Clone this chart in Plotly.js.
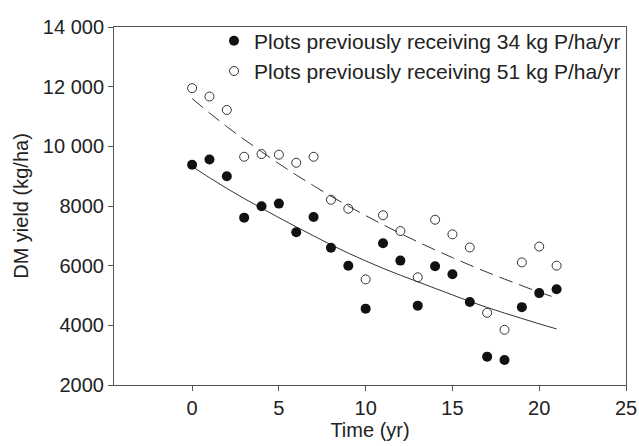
<!DOCTYPE html>
<html>
<head>
<meta charset="utf-8">
<script src="https://cdn.plot.ly/plotly-3.0.1.min.js"></script>
<style>html,body{margin:0;padding:0;background:#fff}#chart{width:639px;height:446px}</style>
</head>
<body>
<div id="chart"></div>
<script>
// Observed yields (kg/ha) by year
const years = [0,1,2,3,4,5,6,7,8,9,10,11,12,13,14,15,16,17,18,19,20,21];
const yield34 = [9380,9560,9000,7610,7990,8080,7120,7630,6600,6000,4560,6750,6170,4660,5980,5710,4780,2950,2840,4610,5080,5210];
const yield51 = [11950,11670,11220,9650,9740,9720,9450,9650,8210,7910,5540,7690,7160,5610,7540,7050,6610,4420,3850,6110,6640,6000];
// Fitted curves
const fit34 = [9330,8950,8590,8250,7930,7610,7300,7000,6700,6420,6160,5910,5680,5460,5240,5020,4800,4600,4410,4230,4050,3880];
const fit51 = [11600,11120,10660,10230,9820,9420,9040,8680,8330,8000,7680,7375,7080,6800,6530,6270,6020,5780,5550,5330,5110,4920];
const seriesNames = ['Plots previously receiving 34 kg P/ha/yr','Plots previously receiving 51 kg P/ha/yr'];
const yTicks = [2000,4000,6000,8000,10000,12000,14000];
const yTickText = ['2000','4000','6000','8000','10 000','12 000','14 000'];
const xTicks = [0,5,10,15,20,25];

const axisColor = '#555';
const textColor = '#222';
const font = 'Liberation Sans, Arial, sans-serif';

const traces = [
  {x: years, y: fit34, mode: 'lines', line: {color: '#333', width: 1, shape: 'spline'}, showlegend: false, hoverinfo: 'skip'},
  {x: years, y: fit51, mode: 'lines', line: {color: '#333', width: 1, dash: '14px,7px', shape: 'spline'}, showlegend: false, hoverinfo: 'skip'},
  {x: years, y: yield34, mode: 'markers', name: seriesNames[0],
   marker: {symbol: 'circle', size: 10, color: '#111', line: {width: 0}}},
  {x: years, y: yield51, mode: 'markers', name: seriesNames[1],
   marker: {symbol: 'circle-open', size: 9, color: '#333', line: {width: 1}}}
];

const layout = {
  width: 639, height: 446,
  margin: {l: 114, r: 13, t: 27, b: 61},
  paper_bgcolor: '#fff', plot_bgcolor: '#fff',
  font: {family: font, size: 20, color: textColor},
  xaxis: {
    range: [-4.5, 25], tickvals: xTicks, ticks: 'outside', ticklen: 5, tickcolor: axisColor,
    showline: true, linecolor: axisColor, linewidth: 1, mirror: true, showgrid: false, zeroline: false,
    title: {text: 'Time (yr)', font: {size: 20}, standoff: 4},
    tickfont: {size: 20}
  },
  yaxis: {
    range: [2000, 14000], tickvals: yTicks, ticktext: yTickText, ticks: 'outside', ticklen: 5, tickcolor: axisColor,
    showline: true, linecolor: axisColor, linewidth: 1, mirror: true, showgrid: false, zeroline: false,
    title: {text: 'DM yield (kg/ha)', font: {size: 20}, standoff: 8},
    tickfont: {size: 20}
  },
  legend: {x: 1, xanchor: 'right', y: 1.018, yanchor: 'top', bgcolor: 'rgba(0,0,0,0)', font: {size: 21}, itemwidth: 30, tracegroupgap: 0},
  showlegend: true
};

Plotly.newPlot('chart', traces, layout, {displayModeBar: false, staticPlot: true});
</script>
</body>
</html>
